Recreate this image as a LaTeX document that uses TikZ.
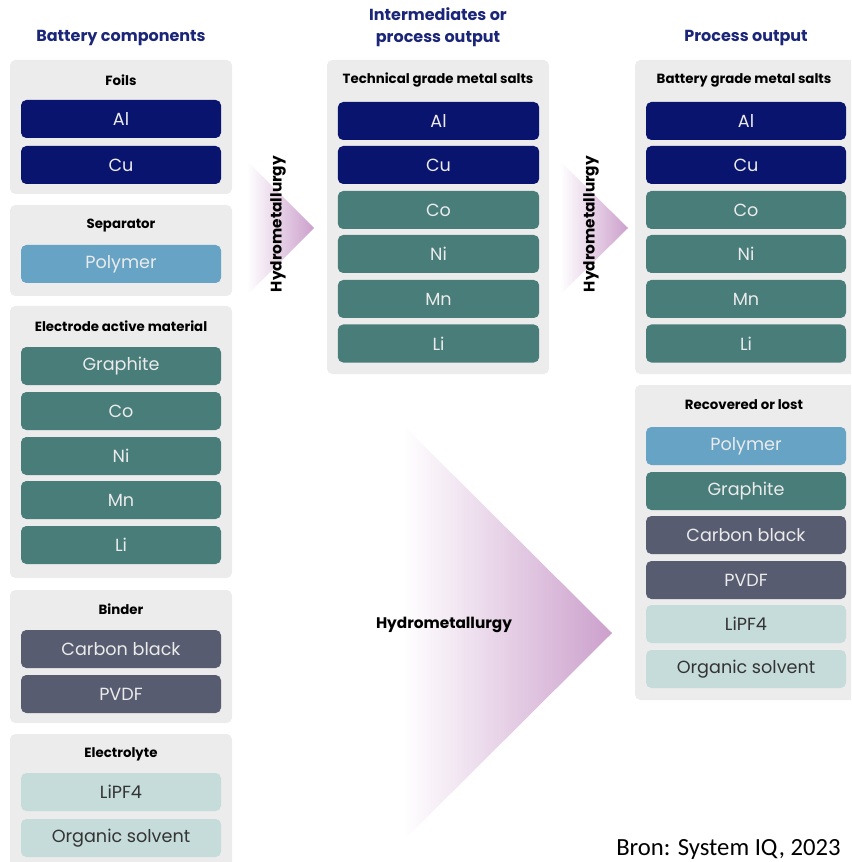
\documentclass[tikz,border=0pt]{standalone}
\usepackage{fontspec}
\setmainfont{Poppins}
\newfontfamily\srcfont{Carlito}
\usepackage{xcolor}
\definecolor{navy}{RGB}{8,20,110}
\definecolor{headnavy}{RGB}{27,38,120}
\definecolor{tealmat}{RGB}{72,125,122}
\definecolor{polyblue}{RGB}{102,163,196}
\definecolor{slate}{RGB}{88,92,112}
\definecolor{paleteal}{RGB}{197,220,218}
\definecolor{panelgrey}{RGB}{236,236,236}
\definecolor{hydropurple}{RGB}{204,160,204}
\tikzset{
    panel-box/.style = {fill=panelgrey, rounded corners=4pt},
    panel-title/.style = {text=black, font=\fontsize{10}{12}\selectfont\bfseries},
    col-title/.style = {text=headnavy, font=\fontsize{12}{16.5}\selectfont\bfseries, align=center},
    item-box/.style = {rounded corners=4pt, minimum width=150pt, minimum height=28.5pt, inner sep=0pt, text=white!92!black, font=\fontsize{13.2}{15}\selectfont},
    hydro-label/.style = {text=black, font=\fontsize{11.5}{14}\selectfont\bfseries},
}

\begin{document}
\begin{tikzpicture}[x=0.75pt,y=-0.75pt]
\useasboundingbox (0,0) rectangle (851,862);
\clip (0,0) rectangle (851,862);

% process arrows
\shade[left color=white, right color=hydropurple] (247,161) -- (314,228) -- (247,295) -- cycle;
\shade[left color=white, right color=hydropurple] (560,161) -- (628,228) -- (560,295) -- cycle;
\shade[left color=white, right color=hydropurple] (403,425) -- (612,633) -- (403,841) -- cycle;
\node[hydro-label, rotate=90] (hydro1) at (278,224) {Hydrometallurgy};
\node[hydro-label, rotate=90] (hydro2) at (591,224) {Hydrometallurgy};
\node[hydro-label] (hydro3) at (444,625) {Hydrometallurgy};

% column headings
\node[col-title] (head-left) at (121,38) {Battery components};
\node[col-title] (head-mid) at (438,27) {Intermediates or\\process output};
\node[col-title] (head-right) at (746,38) {Process output};

% battery components
\fill[panel-box] (10,60) rectangle (232,194);
\fill[panel-box] (10,205) rectangle (232,296);
\fill[panel-box] (10,306) rectangle (232,578);
\fill[panel-box] (10,590) rectangle (232,723);
\fill[panel-box] (10,734) rectangle (232,880);

\node[panel-title] (foils) at (121,80) {Foils};
\node[item-box, fill=navy] (l-al) at (121,119) {Al};
\node[item-box, fill=navy] (l-cu) at (121,165) {Cu};

\node[panel-title] (separator) at (121,226) {Separator};
\node[item-box, fill=polyblue] (l-polymer) at (121,264) {Polymer};

\node[panel-title] (electrode) at (121,326) {Electrode active material};
\node[item-box, fill=tealmat] (l-graphite) at (121,366) {Graphite};
\node[item-box, fill=tealmat] (l-co) at (121,411) {Co};
\node[item-box, fill=tealmat] (l-ni) at (121,456) {Ni};
\node[item-box, fill=tealmat] (l-mn) at (121,500) {Mn};
\node[item-box, fill=tealmat] (l-li) at (121,545) {Li};

\node[panel-title] (binder) at (121,609) {Binder};
\node[item-box, fill=slate] (l-carbon) at (121,649) {Carbon black};
\node[item-box, fill=slate] (l-pvdf) at (121,694) {PVDF};

\node[panel-title] (electrolyte) at (121,754) {Electrolyte};
\node[item-box, fill=paleteal, text=black!80] (l-lipf4) at (121,792) {LiPF4};
\node[item-box, fill=paleteal, text=black!80] (l-solvent) at (121,838) {Organic solvent};

% intermediates
\fill[panel-box] (327,60) rectangle (549,374);
\node[panel-title] (technical) at (438,80) {Technical grade metal salts};
\node[item-box, fill=navy, minimum width=151pt] (m-al) at (438.5,121) {Al};
\node[item-box, fill=navy, minimum width=151pt] (m-cu) at (438.5,165) {Cu};
\node[item-box, fill=tealmat, minimum width=151pt] (m-co) at (438.5,210) {Co};
\node[item-box, fill=tealmat, minimum width=151pt] (m-ni) at (438.5,254) {Ni};
\node[item-box, fill=tealmat, minimum width=151pt] (m-mn) at (438.5,299) {Mn};
\node[item-box, fill=tealmat, minimum width=151pt] (m-li) at (438.5,343.5) {Li};

% process output
\fill[panel-box] (635,60) rectangle (870,374);
\node[panel-title] (battery-grade) at (744,80) {Battery grade metal salts};
\node[item-box, fill=navy] (r-al) at (746,121) {Al};
\node[item-box, fill=navy] (r-cu) at (746,165) {Cu};
\node[item-box, fill=tealmat] (r-co) at (746,210) {Co};
\node[item-box, fill=tealmat] (r-ni) at (746,254) {Ni};
\node[item-box, fill=tealmat] (r-mn) at (746,299) {Mn};
\node[item-box, fill=tealmat] (r-li) at (746,343.5) {Li};

\fill[panel-box] (635,385) rectangle (870,700);
\node[panel-title] (recovered) at (744,405) {Recovered or lost};
\node[item-box, fill=polyblue] (r-polymer) at (746,446) {Polymer};
\node[item-box, fill=tealmat] (r-graphite) at (746,491) {Graphite};
\node[item-box, fill=slate] (r-carbon) at (746,535) {Carbon black};
\node[item-box, fill=slate] (r-pvdf) at (746,580) {PVDF};
\node[item-box, fill=paleteal, text=black!80] (r-lipf4) at (746,624) {LiPF4};
\node[item-box, fill=paleteal, text=black!80] (r-solvent) at (746,669) {Organic solvent};

% source
\node[anchor=base west, inner sep=0pt, font=\srcfont\fontsize{18.5}{22}\selectfont] (source) at (616,855) {Bron: System IQ, 2023};
\end{tikzpicture}
\end{document}
